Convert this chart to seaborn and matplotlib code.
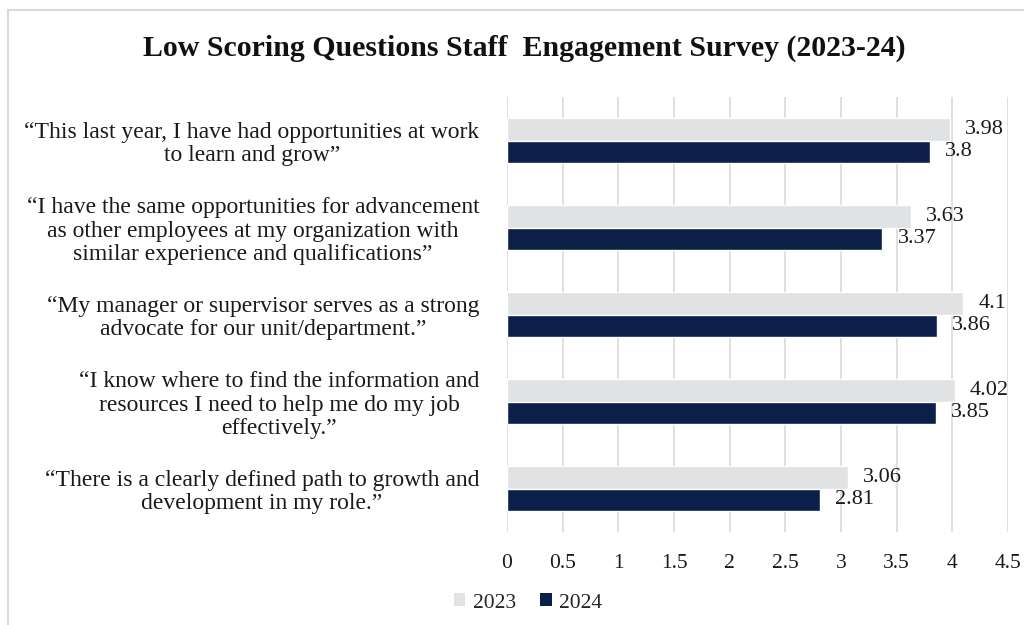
import matplotlib
matplotlib.use("Agg")
import matplotlib.pyplot as plt
from matplotlib.lines import Line2D
from matplotlib.patches import Patch
import pandas as pd
import seaborn as sns

# Survey questions (top to bottom) and average scores per year
questions = [
    "\u201cThis last year, I have had opportunities at work\nto learn and grow\u201d",
    "\u201cI have the same opportunities for advancement\nas other employees at my organization with\nsimilar experience and qualifications\u201d",
    "\u201cMy manager or supervisor serves as a strong\nadvocate for our unit/department.\u201d",
    "\u201cI know where to find the information and\nresources I need to help me do my job\neffectively.\u201d",
    "\u201cThere is a clearly defined path to growth and\ndevelopment in my role.\u201d",
]
scores_2023 = [3.98, 3.63, 4.1, 4.02, 3.06]
scores_2024 = [3.8, 3.37, 3.86, 3.85, 2.81]
years = ["2023", "2024"]
x_ticks = [0, 0.5, 1, 1.5, 2, 2.5, 3, 3.5, 4, 4.5]
x_tick_labels = ["0", "0.5", "1", "1.5", "2", "2.5", "3", "3.5", "4", "4.5"]

colors = {"2023": "#e1e2e4", "2024": "#0b1f48"}

df = pd.DataFrame({
    "question": questions * 2,
    "year": [years[0]] * len(questions) + [years[1]] * len(questions),
    "score": scores_2023 + scores_2024,
})

sns.set_theme(style="white")
plt.rcParams["font.family"] = ["Liberation Serif", "DejaVu Serif"]

W, H = 1024, 625
fig = plt.figure(figsize=(W / 100, H / 100), dpi=100)
ax = fig.add_axes([507 / W, 1 - 532 / H, (1008 - 507) / W, (532 - 97) / H])

sns.barplot(
    data=df, y="question", x="score", hue="year", order=questions,
    hue_order=years, palette=colors, orient="h", width=0.51,
    saturation=1, ax=ax, legend=False,
)

ax.set_xlim(0, 4.5)
ax.set_ylim(4.5, -0.5)
ax.set_xticks(x_ticks)
ax.set_xticklabels(x_tick_labels, fontsize=15.5, color="#1a1a1a")
ax.tick_params(axis="x", length=0, pad=16)
ax.tick_params(axis="y", length=0, pad=20)
for lbl in ax.get_yticklabels():
    lbl.set_fontsize(17)
    lbl.set_multialignment("center")
    lbl.set_linespacing(1.15)
    lbl.set_color("#1a1a1a")
ax.set_xlabel("")
ax.set_ylabel("")
for s in ax.spines.values():
    s.set_visible(False)
ax.grid(axis="x", color="#d9d9d9", linewidth=1.2)
ax.set_axisbelow(True)

# Value labels at the end of each bar
for container in ax.containers:
    ax.bar_label(container, labels=[f"{v:g}" for v in container.datavalues],
                 padding=11, fontsize=16, color="#1a1a1a")

fig.suptitle("Low Scoring Questions Staff  Engagement Survey (2023-24)",
             x=524 / W, y=1 - 48 / H, va="center", fontsize=21.5,
             fontweight="bold", color="#111111")

handles = [Patch(facecolor=colors[y], edgecolor="none", label=y) for y in years]
fig.legend(handles=handles, loc="center", bbox_to_anchor=(528 / W, 1 - 603 / H),
           ncol=2, frameon=False, fontsize=15.5, handlelength=0.55,
           handleheight=0.55, handletextpad=0.35, columnspacing=1.1)

# Thin frame along the top and left edges
fig.add_artist(Line2D([7.5 / W, 7.5 / W], [0, 1 - 9.5 / H],
                      transform=fig.transFigure, color="#d9d9d9", linewidth=1.5))
fig.add_artist(Line2D([7.5 / W, 1], [1 - 9.5 / H, 1 - 9.5 / H],
                      transform=fig.transFigure, color="#d9d9d9", linewidth=1.5))

fig.savefig("out.png", dpi=100, facecolor="white")
